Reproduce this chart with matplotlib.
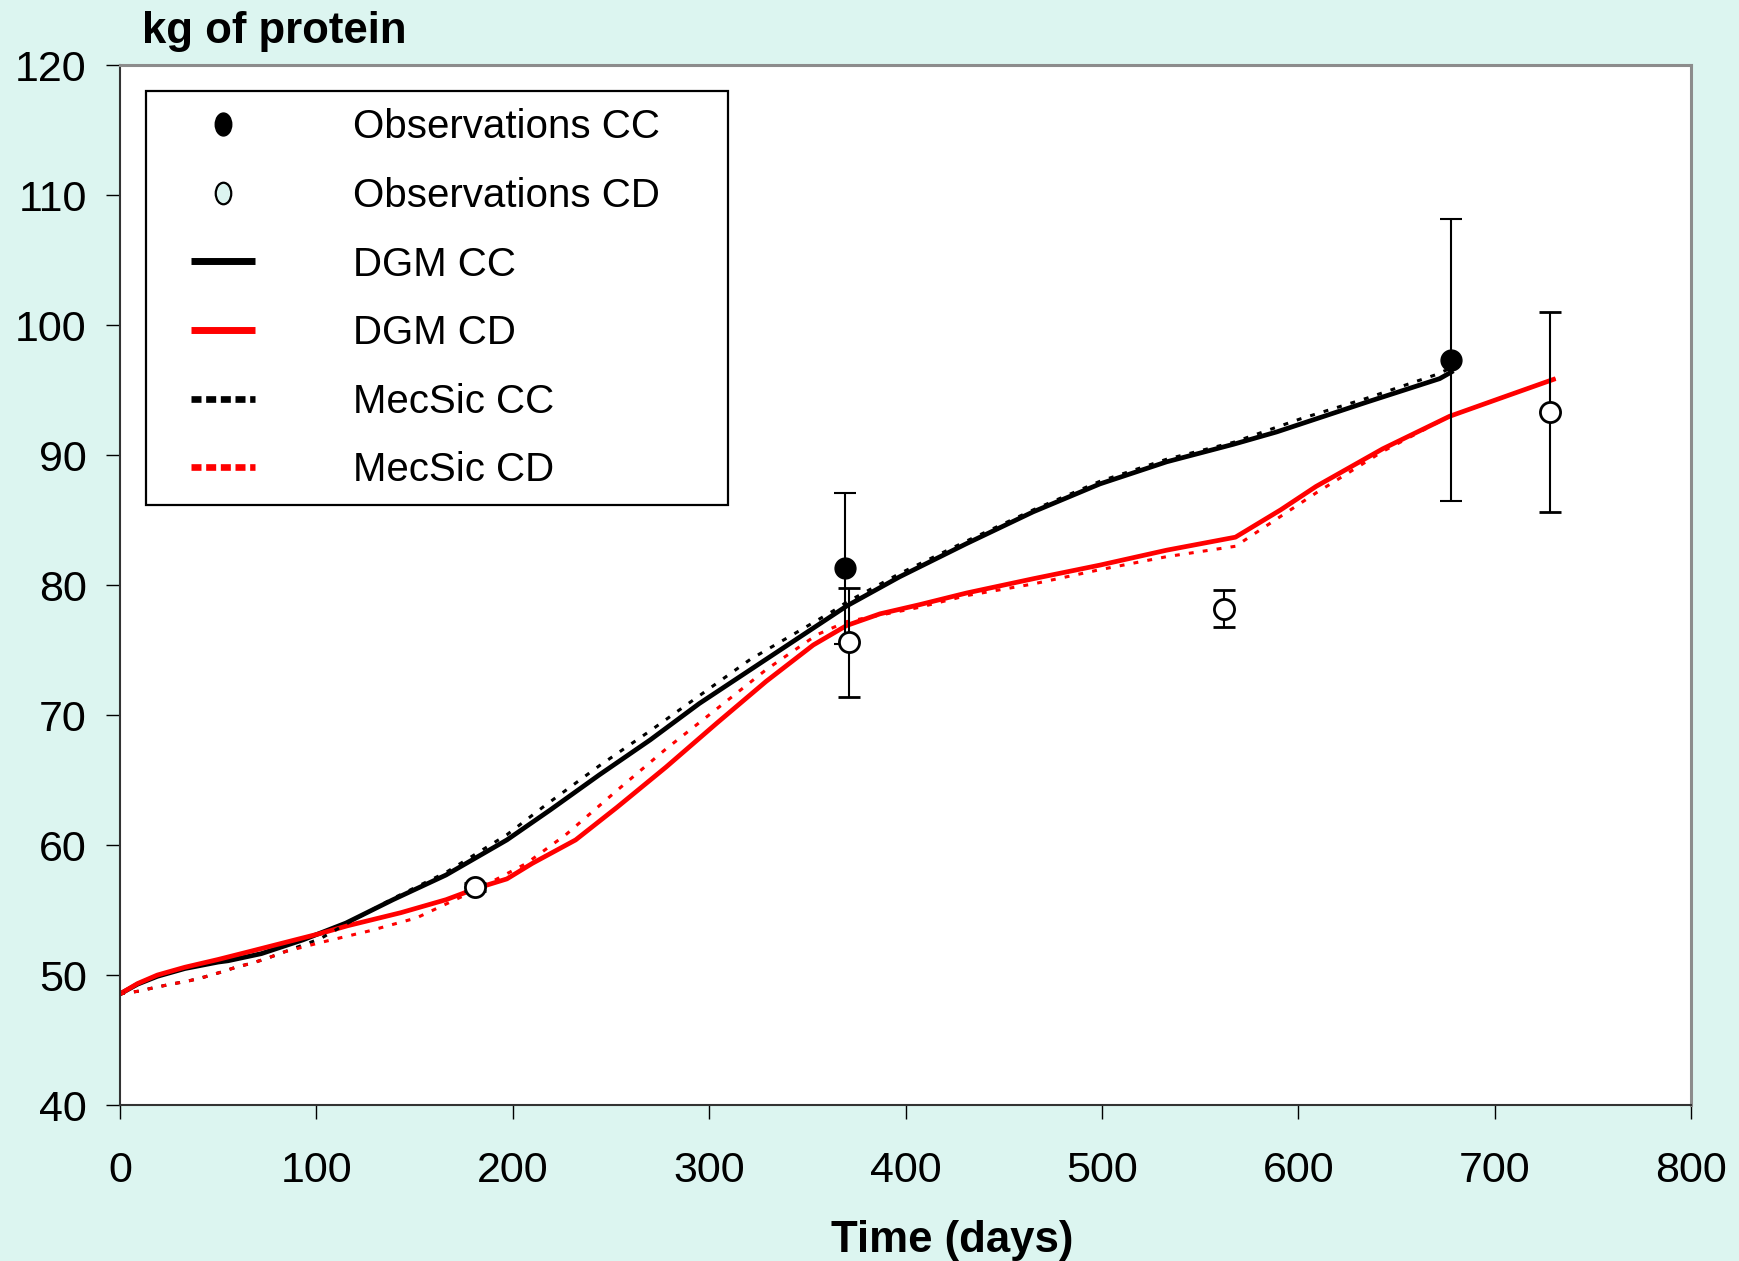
import matplotlib
matplotlib.use("Agg")
import matplotlib.pyplot as plt
from matplotlib.lines import Line2D
from matplotlib.patches import Rectangle
from matplotlib.path import Path
from matplotlib.transforms import Affine2D

plt.rcParams["font.family"] = ["Liberation Sans", "DejaVu Sans"]

# DGM simulation, control (CC) and deficient (CD) diets
dgm_cc_days = [0, 9, 19, 33, 50, 55, 72, 93, 115, 139, 166, 197, 219, 244, 270, 295,
               321, 336, 346, 370, 397, 431, 465, 499, 533, 567, 589, 609, 635, 672, 679]
dgm_cc_kg = [48.55, 49.3, 49.9, 50.5, 51.0, 51.1, 51.65, 52.7, 54.0, 55.8, 57.7, 60.4, 62.7, 65.4, 68.1, 70.9,
             73.5, 75.0, 76.0, 78.4, 80.65, 83.2, 85.65, 87.8, 89.5, 90.85, 91.8, 92.8, 94.1, 95.9, 96.5]

dgm_cd_days = [0, 9, 19, 33, 50, 67, 89, 102, 116, 143, 166, 182, 197, 210, 232, 253, 278,
               304, 329, 353, 370, 387, 407, 431, 465, 499, 533, 568, 591, 609, 643, 677, 703, 731]
dgm_cd_kg = [48.55, 49.35, 50.0, 50.6, 51.2, 51.85, 52.7, 53.2, 53.8, 54.8, 55.8, 56.7, 57.4, 58.6, 60.4, 62.9, 66.0,
             69.4, 72.6, 75.4, 76.9, 77.8, 78.5, 79.4, 80.5, 81.55, 82.7, 83.7, 85.8, 87.6, 90.5, 93.0, 94.4, 95.9]

# MecSic simulation
mec_cc_days = [0, 9, 18, 26, 35, 43, 52, 59, 68, 76, 84, 102, 109, 116, 139, 166, 197, 216, 244, 270,
               295, 321, 346, 364, 370, 397, 431, 465, 499, 533, 567, 601, 635, 670, 679]
mec_cc_kg = [48.55, 48.75, 49.05, 49.3, 49.55, 49.85, 50.25, 50.6, 50.95, 51.35, 51.8, 52.8, 53.4, 54.0, 55.9,
             57.9, 60.8, 63.0, 66.1, 68.8, 71.5, 74.3, 76.5, 78.1, 78.7, 80.9, 83.4, 85.8, 88.0, 89.7, 91.0,
             92.8, 94.4, 96.2, 96.8]

mec_cd_days = [0, 9, 18, 26, 35, 43, 52, 59, 68, 76, 84, 102, 127, 151, 182, 207, 227, 253, 278, 304,
               329, 355, 370, 387, 407, 431, 465, 499, 533, 568, 591, 609, 643, 677, 703, 731]
mec_cd_kg = [48.55, 48.75, 49.05, 49.3, 49.55, 49.85, 50.25, 50.6, 50.95, 51.35, 51.8, 52.5, 53.4, 54.4, 56.6,
             58.6, 60.8, 64.2, 67.4, 70.5, 73.5, 76.2, 77.2, 77.7, 78.3, 79.2, 80.1, 81.2, 82.2, 83.0, 85.3,
             87.1, 90.3, 93.0, 94.4, 95.9]

# measured values with standard deviations
obs_cc_days = [369, 678]
obs_cc_kg = [81.3, 97.3]
obs_cc_sd = [5.8, 10.85]

obs_cd_days = [181, 371, 562, 728]
obs_cd_kg = [56.8, 75.6, 78.2, 93.3]
obs_cd_sd = [0.3, 4.2, 1.45, 7.7]

BG = "#dcf5f0"
RED = "#ff0000"
dotted = (0, (1.6, 3.0))

fig = plt.figure(figsize=(17.4, 12.61), dpi=100, facecolor=BG)
ax = fig.add_axes([0.06897, 0.12371, 0.9029, 0.82435])
ax.set_facecolor("white")

ax.plot(dgm_cc_days, dgm_cc_kg, color="black", lw=3.4, solid_capstyle="butt", zorder=2)
ax.plot(dgm_cd_days, dgm_cd_kg, color=RED, lw=3.4, solid_capstyle="butt", zorder=2.1)
ax.plot(mec_cc_days, mec_cc_kg, color="black", lw=2.2, ls=dotted, zorder=2.2)
ax.plot(mec_cd_days, mec_cd_kg, color=RED, lw=2.2, ls=dotted, zorder=2.3)

ax.errorbar(obs_cc_days, obs_cc_kg, yerr=obs_cc_sd, fmt="o", ms=15, mfc="black", mec="black",
            ecolor="black", elinewidth=1.5, capsize=8, capthick=1.5, zorder=4)
ax.errorbar(obs_cd_days, obs_cd_kg, yerr=obs_cd_sd, fmt="o", ms=14.5, mfc="white", mec="black",
            mew=2, ecolor="black", elinewidth=1.5, capsize=8, capthick=1.5, zorder=4)

ax.set_xlim(0, 800)
ax.set_ylim(40, 120)
ax.set_xticks(range(0, 801, 100))
ax.set_yticks(range(40, 121, 10))
ax.tick_params(direction="out", length=10, width=1.0, labelsize=31, color="black")
ax.tick_params(axis="x", pad=23)
ax.tick_params(axis="y", pad=14)

for side in ["left", "bottom"]:
    ax.spines[side].set_color("#333333")
    ax.spines[side].set_linewidth(1.5)
for side in ["top", "right"]:
    ax.spines[side].set_color("#8c8c8c")
    ax.spines[side].set_linewidth(2.2)

# legend: tall ellipse markers and heavier line samples
ellipse = Path.unit_circle().transformed(Affine2D().scale(0.72, 1.0))
handles = [
    Line2D([], [], ls="none", marker=ellipse, ms=16.5, mfc="black", mec="black"),
    Line2D([], [], ls="none", marker=ellipse, ms=15.5, mfc=BG, mec="black", mew=1.6),
    Line2D([], [], color="black", lw=5, solid_capstyle="butt"),
    Line2D([], [], color=RED, lw=5, solid_capstyle="butt"),
    Line2D([], [], color="black", lw=4.8, ls=(0, (1.5, 0.7)), dash_capstyle="butt"),
    Line2D([], [], color=RED, lw=4.8, ls=(0, (1.5, 0.7)), dash_capstyle="butt"),
]
labels = ["Observations CC", "Observations CD", "DGM CC", "DGM CD", "MecSic CC", "MecSic CD"]
ax.legend(handles, labels, loc="upper left", bbox_to_anchor=(0.0452, 0.9588), frameon=False,
          fontsize=29, handlelength=1.59, handletextpad=2.43, labelspacing=0.76,
          borderpad=0, borderaxespad=0)
ax.add_patch(Rectangle((0.01655, 0.5772), 0.3705, 0.3983, transform=ax.transAxes,
                       fill=False, ec="black", lw=1.6, zorder=5))

fig.text(0.0815, 0.9659, "kg of protein", fontsize=31.5, fontweight="bold", ha="left", va="baseline")
fig.text(0.547, 0.0071, "Time (days)", fontsize=31.5, fontweight="bold", ha="center", va="baseline")

fig.savefig("out.png", dpi=100, facecolor=BG)
